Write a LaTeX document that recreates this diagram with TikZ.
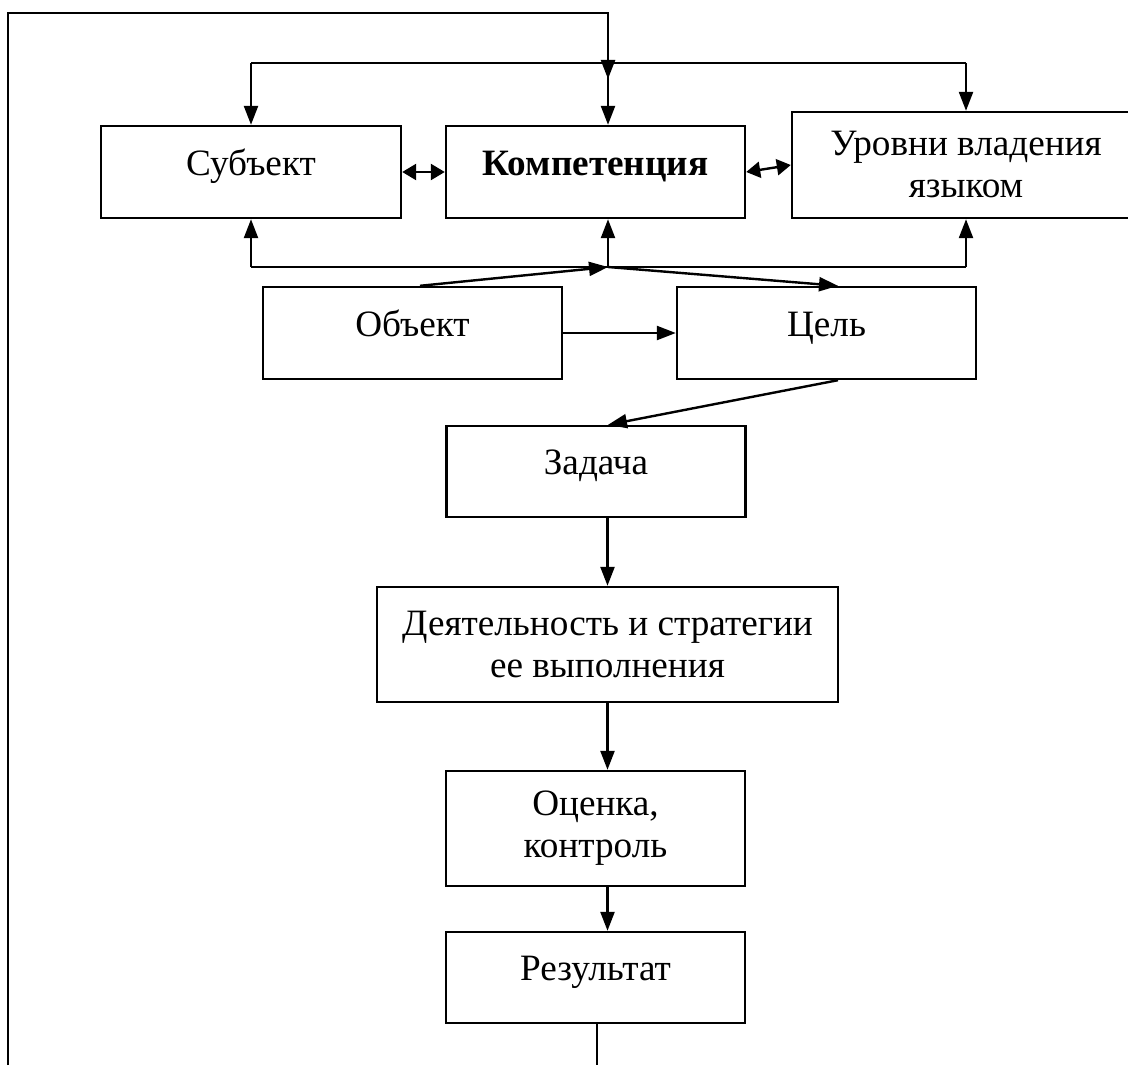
\documentclass[tikz,border=0pt]{standalone}
\usepackage{fontspec}
\setmainfont{Liberation Serif}
\usepackage{tikz}
\usetikzlibrary{arrows.meta, positioning}

\begin{document}
\begin{tikzpicture}[
  x=0.5pt, y=-0.5pt,
  block/.style={rectangle, draw=black, line width=1.2pt, inner sep=0pt, minimum width=149.5pt, minimum height=46pt, align=center, font=\fontsize{18.6}{21}\selectfont},
  single/.style={text height=9.5pt, text depth=6.5pt},
  flow/.style={-{Triangle[length=9.5pt, width=7pt]}, line width=1.2pt},
  twoway/.style={{Triangle[length=7pt, width=8pt]}-{Triangle[length=7pt, width=8pt]}, line width=1.2pt},
  link/.style={line width=1.2pt}
]

\clip (0,0) rectangle (1128,1065);

% Nodes
\node[block, single, minimum width=150pt] (subject) at (251,172) {Субъект};
\node[block, single] (komp) at (595.5,172) {\textbf{Компетенция}};
\node[block, minimum width=174pt, minimum height=53pt] (levels) at (966,165) {Уровни владения\\языком};
\node[block, single] (object) at (412.5,333) {Объект};
\node[block, single] (goal) at (826.5,333) {Цель};
\node[block, single, minimum height=45.5pt] (task) at (596,471.5) {Задача};
\node[block, minimum width=230.5pt, minimum height=57.5pt] (activity) at (607.5,644.5) {Деятельность и стратегии\\ее выполнения};
\node[block, minimum height=57.5pt] (assess) at (595.5,828.5) {Оценка,\\контроль};
\node[block, single, minimum height=45.5pt] (result) at (595.5,977.5) {Результат};

% Bus points
\coordinate (loopl) at (8,1065);
\coordinate (top) at (608,13);
\coordinate (tbus) at (608,63);
\coordinate (bbus) at (608,267);

% Feedback loop and top bus
\draw[flow] (loopl) |- (top) -- ([yshift=-8pt]tbus);
\draw[link] (subject.north |- tbus) -- (levels.north |- tbus);
\draw[flow] (subject.north |- tbus) -- (subject.north);
\draw[flow] (tbus) -- (tbus |- komp.north);
\draw[flow] (levels.north |- tbus) -- (levels.north);

% Bottom bus
\draw[link] (subject.south |- bbus) -- (levels.south |- bbus);
\draw[flow] (subject.south |- bbus) -- (subject.south);
\draw[flow] (bbus) -- (bbus |- komp.south);
\draw[flow] (levels.south |- bbus) -- (levels.south);

% Two-way links
\draw[twoway] (subject.east) -- (komp.west);
\draw[twoway] (komp.east) -- (levels.west);

% Object and goal
\draw[flow] ([xshift=3.75pt]object.north) -- (bbus);
\draw[flow] (bbus) -- ([xshift=5.75pt]goal.north);
\draw[flow] (object.east) -- (goal.west);
\draw[flow] ([xshift=5.75pt]goal.south) -- ([xshift=6pt]task.north);

% Main chain
\draw[flow] (activity.north |- task.south) -- (activity.north);
\draw[flow] (activity.south) -- (activity.south |- assess.north);
\draw[flow] (activity.south |- assess.south) -- (activity.south |- result.north);
\draw[link] ([xshift=0.75pt]result.south) -- ([xshift=0.75pt]result.south |- loopl);

\end{tikzpicture}
\end{document}
